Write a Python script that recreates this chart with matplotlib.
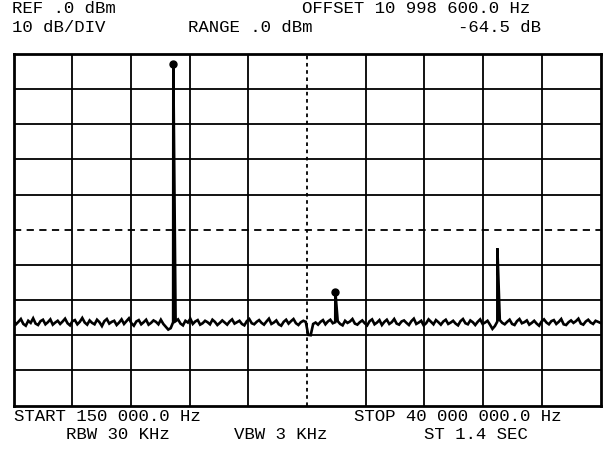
import numpy as np
import matplotlib
matplotlib.use("Agg")
import matplotlib.pyplot as plt

# ---- data ----
start_mhz = 0.15
stop_mhz = 40.0
ref_dbm = 0.0
db_per_div = 10

noise_dbm = [
    -75.8, -76.9, -76.2, -75.4, -76.8, -77.3, -75.9, -76.5, -75.2, -76.7, -77.1, -76.0, -75.6, -76.9, -76.3, -75.5, -77.0, -76.4, -75.9, -76.8,
    -76.1, -75.3, -76.6, -77.2, -76.0, -75.7, -76.9, -76.2, -75.1, -76.4, -77.0, -75.8, -76.5, -76.9, -75.6, -76.3, -77.4, -76.0, -75.4, -76.7,
    -76.2, -75.9, -77.1, -76.4, -75.5, -76.8, -76.0, -75.2, -76.6, -77.3, -76.1, -75.7, -76.9, -76.3, -75.6, -77.0, -76.5, -75.8, -76.2, -76.9,
    -75.6, -76.8, -77.6, -78.4, -78.0, -76.3, -76.0, -75.5, -76.7, -77.2, -75.9, -76.4, -75.3, -76.8, -76.1, -75.7, -77.0, -76.6, -75.9, -76.3,
    -76.9, -75.6, -76.2, -77.1, -76.5, -75.8, -76.4, -77.0, -76.1, -75.5, -76.7, -76.3, -75.9, -76.8, -77.2, -76.0, -75.4, -76.6, -76.9, -76.2,
    -75.7, -76.5, -77.0, -76.1, -75.3, -76.8, -76.4, -75.8, -76.9, -77.3, -76.2, -75.6, -76.7, -76.0, -75.4, -76.6, -77.1, -76.3, -75.9, -76.2,
    -79.9, -80.0, -76.8, -76.4, -77.0, -76.2, -75.7, -76.9, -76.1, -75.6, -76.6, -76.3, -76.0, -76.8, -77.2, -75.9, -76.5, -76.1, -75.4, -76.7,
    -77.0, -76.3, -75.8, -76.6, -77.2, -76.0, -75.5, -76.9, -76.4, -75.7, -77.1, -76.2, -75.6, -76.8, -76.3, -75.4, -76.7, -77.0, -76.1, -75.8,
    -76.5, -77.1, -76.0, -75.3, -76.8, -76.4, -75.9, -77.2, -76.6, -75.5, -76.2, -76.9, -75.7, -76.3, -77.0, -76.1, -75.6, -76.8, -76.4, -75.9,
    -76.7, -77.2, -76.0, -75.4, -76.6, -76.9, -75.8, -76.3, -77.1, -76.2, -75.5, -76.8, -76.4, -75.9, -77.0, -78.2, -77.4, -76.1, -75.7, -76.5,
    -76.9, -76.2, -75.6, -76.8, -77.1, -76.0, -75.4, -76.6, -76.3, -75.8, -77.0, -76.5, -75.9, -76.7, -77.3, -76.1, -75.5, -76.4, -76.9, -76.0,
    -75.7, -76.8, -76.2, -75.4, -76.9, -77.1, -76.3, -75.8, -76.5, -76.0, -75.3, -76.7, -77.0, -76.1, -75.6, -76.4, -76.8, -75.9, -76.2, -76.5,
]

peak_mhz = [11.0, 22.0, 33.0]
peak_dbm = [-2.8, -67.6, -55.3]
marker_mhz = [11.0, 22.0]
marker_dbm = [-2.8, -67.6]

top_left = ["REF .0 dBm", "10 dB/DIV"]
top_mid = "RANGE .0 dBm"
top_right = ["OFFSET 10 998 600.0 Hz", "-64.5 dB"]
bot_row1 = ["START 150 000.0 Hz", "STOP 40 000 000.0 Hz"]
bot_row2 = ["RBW 30 KHz", "VBW 3 KHz", "ST 1.4 SEC"]

# ---- figure ----
W, H = 606, 452
fig = plt.figure(figsize=(W / 100, H / 100), dpi=100)
fig.patch.set_facecolor("white")

x0, x1, y0, y1 = 13.5, 600.5, 55, 406.5
ax = fig.add_axes([x0 / W, 1 - y1 / H, (x1 - x0) / W, (y1 - y0) / H])
ax.set_xlim(start_mhz, stop_mhz)
ax.set_ylim(ref_dbm - 10 * db_per_div, ref_dbm)
ax.set_xticks([])
ax.set_yticks([])
for s in ax.spines.values():
    s.set_linewidth(2.0)
    s.set_color("black")

span = stop_mhz - start_mhz
for i in range(1, 10):
    xv = start_mhz + span * i / 10
    yv = ref_dbm - db_per_div * i
    if i == 5:
        ax.axvline(xv, color="black", lw=1.3, ls=(0, (2, 2)))
        ax.axhline(yv, color="black", lw=1.3, ls=(0, (4, 3)))
    else:
        ax.axvline(xv, color="black", lw=1.3)
        ax.axhline(yv, color="black", lw=1.3)

# trace: noise plus peaks
nf = np.linspace(start_mhz, stop_mhz, len(noise_dbm))
f_all = np.concatenate([nf, np.array(peak_mhz)])
a_all = np.concatenate([np.array(noise_dbm), np.array(peak_dbm)])
order = np.argsort(f_all, kind="stable")
ax.plot(f_all[order], a_all[order], color="black", lw=1.9, solid_joinstyle="miter")
ax.plot(marker_mhz, marker_dbm, "o", color="black", ms=5)

# ---- texts ----
fp = dict(family="Liberation Mono", fontsize=12.5, color="black", va="top", ha="left")

def t(x, y, s):
    fig.text(x / W, 1 - y / H, s, **fp)

t(12, 1, top_left[0])
t(12, 20, top_left[1])
t(188, 20, top_mid)
t(302, 1, top_right[0])
t(458, 20, top_right[1])
t(14, 409, bot_row1[0])
t(354, 409, bot_row1[1])
t(66, 427, bot_row2[0])
t(234, 427, bot_row2[1])
t(424, 427, bot_row2[2])

fig.savefig("out.png", dpi=100, facecolor="white")
